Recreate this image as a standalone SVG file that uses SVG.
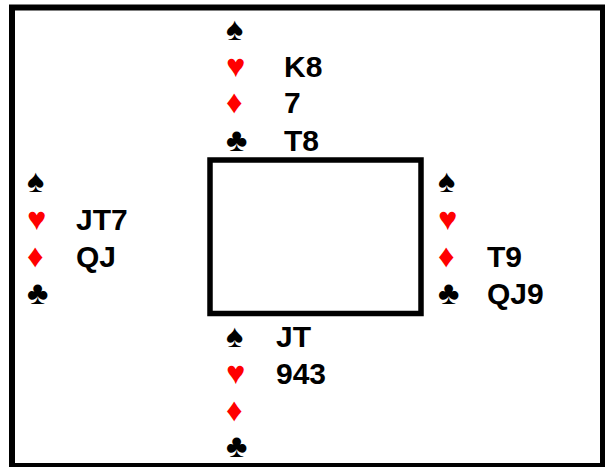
<svg xmlns="http://www.w3.org/2000/svg" width="605" height="467" viewBox="0 0 605 467">
<style>
.frame{fill:none;stroke:#000;stroke-width:6}
.table{fill:none;stroke:#000;stroke-width:5.5}
text{font-family:"Liberation Sans",Arial,sans-serif;font-size:30px;font-weight:bold;fill:#000}
.s{font-weight:normal;font-size:32.5px}
.r{fill:#FF0000}
</style>
<rect width="605" height="467" fill="#fff"/>
<rect class="frame" x="12" y="7.5" width="591" height="458.5"/>
<g id="table"><rect class="table" x="210" y="160" width="211" height="153.5"/></g>
<g id="north">
<text class="s" x="226" y="40">♠</text>
<text class="s r" x="226" y="77">♥</text>
<text x="284" y="77">K8</text>
<text class="s r" x="226" y="113">♦</text>
<text x="284" y="113">7</text>
<text class="s" x="226" y="151">♣</text>
<text x="284" y="151">T8</text>
</g>
<g id="west">
<text class="s" x="27" y="192">♠</text>
<text class="s r" x="27" y="230">♥</text>
<text x="76" y="230">JT7</text>
<text class="s r" x="27" y="267">♦</text>
<text x="76" y="267">QJ</text>
<text class="s" x="27" y="304">♣</text>
</g>
<g id="east">
<text class="s" x="438" y="192">♠</text>
<text class="s r" x="438" y="230">♥</text>
<text class="s r" x="438" y="267">♦</text>
<text x="487" y="267">T9</text>
<text class="s" x="438" y="304">♣</text>
<text x="487" y="304">QJ9</text>
</g>
<g id="south">
<text class="s" x="226" y="347">♠</text>
<text x="276" y="347">JT</text>
<text class="s r" x="226" y="384">♥</text>
<text x="276" y="384">943</text>
<text class="s r" x="226" y="421">♦</text>
<text class="s" x="226" y="457">♣</text>
</g>
<g id="connectors"/>
</svg>
